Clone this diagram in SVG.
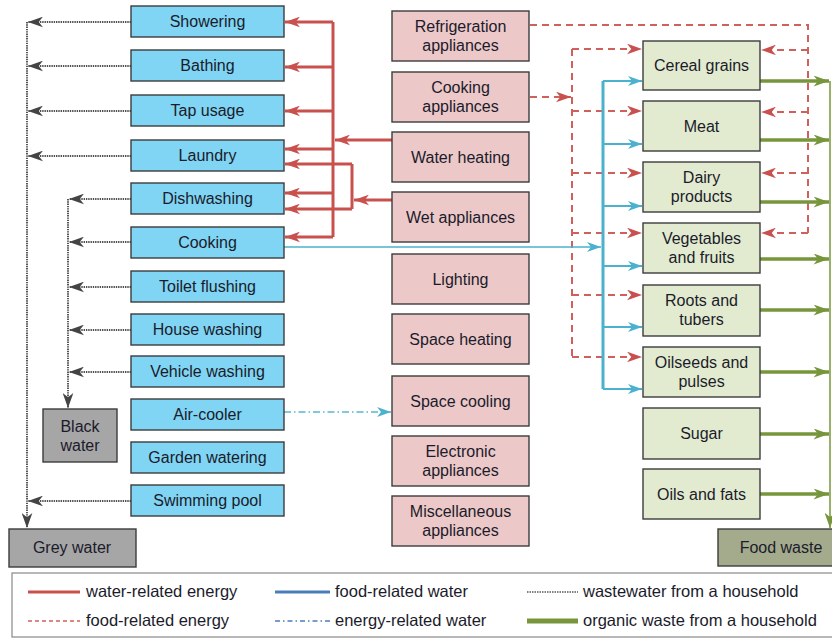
<svg xmlns="http://www.w3.org/2000/svg" width="832" height="639" viewBox="0 0 832 639">
<style>
text{font-family:"Liberation Sans",Arial,sans-serif;font-size:16px;fill:#1b1b2b;text-anchor:middle}
.lt{font-size:16.5px;text-anchor:start}
.bw{fill:#7fd5f3;stroke:#3c3c3c;stroke-width:1.4}
.pk{fill:#ecc8c8;stroke:#3c3c3c;stroke-width:1.4}
.gr{fill:#e2ebcf;stroke:#3c3c3c;stroke-width:1.4}
.gy{fill:#a6a6a6;stroke:#3c3c3c;stroke-width:1.4}
.fw{fill:#a3ab8c;stroke:#3c3c3c;stroke-width:1.4}
.dot{fill:none;stroke:#505050;stroke-width:1.9;stroke-dasharray:1.4 0.9}
.red{fill:none;stroke:#c8504d;stroke-width:3}
.rdash{fill:none;stroke:#d0605c;stroke-width:2;stroke-dasharray:7 5}
.blu{fill:none;stroke:#4bb1cf;stroke-width:2}
.dd{fill:none;stroke:#5bb8d0;stroke-width:1.6;stroke-dasharray:7 3 1.5 3}
.grn{fill:none;stroke:#77963c;stroke-width:3.5}
</style>
<defs>
<marker id="aG" viewBox="0 0 14 10" refX="14" refY="5" markerWidth="15" markerHeight="11" markerUnits="userSpaceOnUse" orient="auto"><path d="M0,0 L14,5 L0,10 L4,5 Z" fill="#444"/></marker>
<marker id="aR" viewBox="0 0 14 10" refX="14" refY="5" markerWidth="15" markerHeight="11" markerUnits="userSpaceOnUse" orient="auto"><path d="M0,0 L14,5 L0,10 L4,5 Z" fill="#c8504d"/></marker>
<marker id="aB" viewBox="0 0 14 10" refX="14" refY="5" markerWidth="15" markerHeight="10" markerUnits="userSpaceOnUse" orient="auto"><path d="M0,0 L14,5 L0,10 L4,5 Z" fill="#4bb1cf"/></marker>
<marker id="aV" viewBox="0 0 14 10" refX="14" refY="5" markerWidth="16" markerHeight="11" markerUnits="userSpaceOnUse" orient="auto"><path d="M0,0 L14,5 L0,10 L4,5 Z" fill="#77963c"/></marker>
</defs>

<g id="connectors">
<!-- wastewater -->
<path class="dot" d="M27,22 V528" marker-end="url(#aG)"/>
<path class="dot" d="M131,22 H28" marker-end="url(#aG)"/>
<path class="dot" d="M131,66 H28" marker-end="url(#aG)"/>
<path class="dot" d="M131,111 H28" marker-end="url(#aG)"/>
<path class="dot" d="M131,156 H28" marker-end="url(#aG)"/>
<path class="dot" d="M131,501 H28" marker-end="url(#aG)"/>
<path class="dot" d="M68,199 V408" marker-end="url(#aG)"/>
<path class="dot" d="M131,199 H69" marker-end="url(#aG)"/>
<path class="dot" d="M131,242 H69" marker-end="url(#aG)"/>
<path class="dot" d="M131,287 H69" marker-end="url(#aG)"/>
<path class="dot" d="M131,330 H69" marker-end="url(#aG)"/>
<path class="dot" d="M131,372 H69" marker-end="url(#aG)"/>
<!-- water-related energy -->
<path class="red" d="M333,22 V237"/>
<path class="red" d="M392,140 H335" marker-end="url(#aR)"/>
<path class="red" d="M333,22 H285" marker-end="url(#aR)"/>
<path class="red" d="M333,67 H285" marker-end="url(#aR)"/>
<path class="red" d="M333,111 H285" marker-end="url(#aR)"/>
<path class="red" d="M333,149 H285" marker-end="url(#aR)"/>
<path class="red" d="M333,193 H285" marker-end="url(#aR)"/>
<path class="red" d="M333,237 H285" marker-end="url(#aR)"/>
<path class="red" d="M352,164 V209"/>
<path class="red" d="M392,200 H354" marker-end="url(#aR)"/>
<path class="red" d="M352,164 H285" marker-end="url(#aR)"/>
<path class="red" d="M352,209 H285" marker-end="url(#aR)"/>
<!-- food-related energy -->
<path class="rdash" d="M530,25 H808 V233"/>
<path class="rdash" d="M808,50 H761" marker-end="url(#aR)"/>
<path class="rdash" d="M808,112 H761" marker-end="url(#aR)"/>
<path class="rdash" d="M808,173 H761" marker-end="url(#aR)"/>
<path class="rdash" d="M808,233 H761" marker-end="url(#aR)"/>
<path class="rdash" d="M530,97 H571" marker-end="url(#aR)"/>
<path class="rdash" d="M572,49 V357"/>
<path class="rdash" d="M572,49 H642" marker-end="url(#aR)"/>
<path class="rdash" d="M572,111 H642" marker-end="url(#aR)"/>
<path class="rdash" d="M572,173 H642" marker-end="url(#aR)"/>
<path class="rdash" d="M572,233 H642" marker-end="url(#aR)"/>
<path class="rdash" d="M572,295 H642" marker-end="url(#aR)"/>
<path class="rdash" d="M572,357 H642" marker-end="url(#aR)"/>
<!-- food-related water -->
<path class="blu" style="stroke-width:1.5" d="M284,247 H601" marker-end="url(#aB)"/>
<path class="blu" style="stroke-width:3" d="M603,81 V389"/>
<path class="blu" d="M603,81 H642" marker-end="url(#aB)"/>
<path class="blu" d="M603,144 H642" marker-end="url(#aB)"/>
<path class="blu" d="M603,206 H642" marker-end="url(#aB)"/>
<path class="blu" d="M603,266 H642" marker-end="url(#aB)"/>
<path class="blu" d="M603,327 H642" marker-end="url(#aB)"/>
<path class="blu" d="M603,389 H642" marker-end="url(#aB)"/>
<!-- energy-related water -->
<path class="dd" d="M284,412 H391" marker-end="url(#aB)"/>
<!-- organic waste -->
<path fill="none" stroke="#77963c" stroke-width="1.5" d="M830,81 V528" marker-end="url(#aV)"/>
<path class="grn" d="M760,81 H829" marker-end="url(#aV)"/>
<path class="grn" d="M760,140 H829" marker-end="url(#aV)"/>
<path class="grn" d="M760,202 H829" marker-end="url(#aV)"/>
<path class="grn" d="M760,259 H829" marker-end="url(#aV)"/>
<path class="grn" d="M760,310 H829" marker-end="url(#aV)"/>
<path class="grn" d="M760,372 H829" marker-end="url(#aV)"/>
<path class="grn" d="M760,434 H829" marker-end="url(#aV)"/>
<path class="grn" d="M760,494 H829" marker-end="url(#aV)"/>
</g>

<!-- water uses -->
<g id="showering"><rect class="bw" x="131" y="6" width="153" height="31"/><text x="207.5" y="27">Showering</text></g>
<g id="bathing"><rect class="bw" x="131" y="50" width="153" height="31"/><text x="207.5" y="71">Bathing</text></g>
<g id="tap-usage"><rect class="bw" x="131" y="95" width="153" height="31"/><text x="207.5" y="116">Tap usage</text></g>
<g id="laundry"><rect class="bw" x="131" y="140" width="153" height="31"/><text x="207.5" y="161">Laundry</text></g>
<g id="dishwashing"><rect class="bw" x="131" y="183" width="153" height="31"/><text x="207.5" y="204">Dishwashing</text></g>
<g id="cooking"><rect class="bw" x="131" y="227" width="153" height="31"/><text x="207.5" y="248">Cooking</text></g>
<g id="toilet-flushing"><rect class="bw" x="131" y="271" width="153" height="31"/><text x="207.5" y="292">Toilet flushing</text></g>
<g id="house-washing"><rect class="bw" x="131" y="314" width="153" height="31"/><text x="207.5" y="335">House washing</text></g>
<g id="vehicle-washing"><rect class="bw" x="131" y="356" width="153" height="31"/><text x="207.5" y="377">Vehicle washing</text></g>
<g id="air-cooler"><rect class="bw" x="131" y="399" width="153" height="31"/><text x="207.5" y="420">Air-cooler</text></g>
<g id="garden-watering"><rect class="bw" x="131" y="442" width="153" height="31"/><text x="207.5" y="463">Garden watering</text></g>
<g id="swimming-pool"><rect class="bw" x="131" y="485" width="153" height="31"/><text x="207.5" y="506">Swimming pool</text></g>
<g id="black-water"><rect class="gy" x="43" y="409" width="74" height="53"/><text x="80" y="432">Black</text><text x="80" y="451">water</text></g>
<g id="grey-water"><rect class="gy" x="9" y="529" width="127" height="38"/><text x="72" y="553">Grey water</text></g>

<!-- energy uses -->
<g id="refrigeration"><rect class="pk" x="392" y="11" width="137" height="50"/><text x="460.5" y="32">Refrigeration</text><text x="460.5" y="51">appliances</text></g>
<g id="cooking-appliances"><rect class="pk" x="392" y="72" width="137" height="50"/><text x="460.5" y="93">Cooking</text><text x="460.5" y="112">appliances</text></g>
<g id="water-heating"><rect class="pk" x="392" y="132" width="137" height="50"/><text x="460.5" y="162.5">Water heating</text></g>
<g id="wet-appliances"><rect class="pk" x="392" y="192" width="137" height="50"/><text x="460.5" y="222.5">Wet appliances</text></g>
<g id="lighting"><rect class="pk" x="392" y="254" width="137" height="50"/><text x="460.5" y="284.5">Lighting</text></g>
<g id="space-heating"><rect class="pk" x="392" y="314" width="137" height="50"/><text x="460.5" y="344.5">Space heating</text></g>
<g id="space-cooling"><rect class="pk" x="392" y="376" width="137" height="50"/><text x="460.5" y="406.5">Space cooling</text></g>
<g id="electronic"><rect class="pk" x="392" y="436" width="137" height="50"/><text x="460.5" y="457">Electronic</text><text x="460.5" y="476">appliances</text></g>
<g id="miscellaneous"><rect class="pk" x="392" y="496" width="137" height="50"/><text x="460.5" y="517">Miscellaneous</text><text x="460.5" y="536">appliances</text></g>

<!-- food -->
<g id="cereal"><rect class="gr" x="643" y="41" width="117" height="49"/><text x="701.5" y="71">Cereal grains</text></g>
<g id="meat"><rect class="gr" x="643" y="101" width="117" height="50"/><text x="701.5" y="132">Meat</text></g>
<g id="dairy"><rect class="gr" x="643" y="162" width="117" height="50"/><text x="701.5" y="183">Dairy</text><text x="701.5" y="202">products</text></g>
<g id="vegetables"><rect class="gr" x="643" y="223" width="117" height="50"/><text x="701.5" y="244">Vegetables</text><text x="701.5" y="263">and fruits</text></g>
<g id="roots"><rect class="gr" x="643" y="285" width="117" height="51"/><text x="701.5" y="306">Roots and</text><text x="701.5" y="325">tubers</text></g>
<g id="oilseeds"><rect class="gr" x="643" y="347" width="117" height="50"/><text x="701.5" y="368">Oilseeds and</text><text x="701.5" y="387">pulses</text></g>
<g id="sugar"><rect class="gr" x="643" y="408" width="117" height="51"/><text x="701.5" y="439">Sugar</text></g>
<g id="oils-fats"><rect class="gr" x="643" y="469" width="117" height="50"/><text x="701.5" y="499.5">Oils and fats</text></g>
<g id="food-waste"><rect class="fw" x="718" y="529" width="120" height="37"/><text x="781" y="553">Food waste</text></g>

<!-- legend -->
<g id="legend">
<rect x="12" y="573" width="830" height="64" fill="#fff" stroke="#888" stroke-width="1.2"/>
<line x1="28" y1="592" x2="80" y2="592" stroke="#c8504d" stroke-width="3"/>
<text class="lt" x="86" y="597">water-related energy</text>
<line x1="275" y1="592" x2="330" y2="592" stroke="#4a7ebb" stroke-width="3"/>
<text class="lt" x="335" y="597">food-related water</text>
<line x1="527" y1="592" x2="578" y2="592" stroke="#555" stroke-width="1.6" stroke-dasharray="1.5 1"/>
<text class="lt" x="583" y="597">wastewater from a household</text>
<line x1="28" y1="621" x2="80" y2="621" stroke="#d0605c" stroke-width="1.5" stroke-dasharray="4 3"/>
<text class="lt" x="86" y="626">food-related energy</text>
<line x1="275" y1="621" x2="330" y2="621" stroke="#4a7ebb" stroke-width="1.3" stroke-dasharray="5 3 1.5 3"/>
<text class="lt" x="335" y="626">energy-related water</text>
<line x1="527" y1="621" x2="578" y2="621" stroke="#77963c" stroke-width="5"/>
<text class="lt" x="583" y="626">organic waste from a household</text>
</g>
</svg>
